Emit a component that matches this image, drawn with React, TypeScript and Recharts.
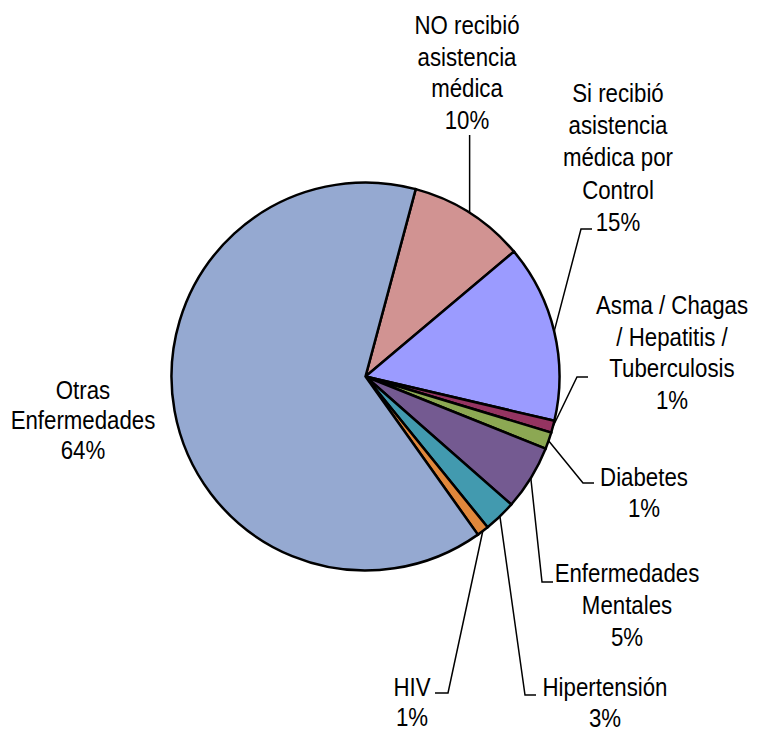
import React from 'react';
import { PieChart, Pie, Cell } from 'recharts';

const categories = [
  'NO recibió asistencia médica',
  'Si recibió asistencia médica por Control',
  'Asma / Chagas / Hepatitis / Tuberculosis',
  'Diabetes',
  'Enfermedades Mentales',
  'Hipertensión',
  'HIV',
  'Otras Enfermedades',
];
const values = [9.7, 14.8, 1.0, 1.4, 5.4, 2.7, 1.0, 64.0];
const percentLabels = ['10%', '15%', '1%', '1%', '5%', '3%', '1%', '64%'];
const labelTextLines = [
  ['NO recibió', 'asistencia', 'médica'],
  ['Si recibió', 'asistencia', 'médica por', 'Control'],
  ['Asma / Chagas', '/ Hepatitis /', 'Tuberculosis'],
  ['Diabetes'],
  ['Enfermedades', 'Mentales'],
  ['Hipertensión'],
  ['HIV'],
  ['Otras', 'Enfermedades'],
];
const colors = ['#D19392', '#9B9BFF', '#953461', '#8CA853', '#745A91', '#429AAF', '#E0873B', '#95A9D1'];

// label layout relative to pie centre (tx, ty: first line centre; lh: line height; leader elbow ex, ey; horizontal end hx)
const layout = [
  { tx: 101.5, ty: -351.5, lh: 31.7, ex: null, ey: -241.5, hx: null },
  { tx: 252.5, ty: -283.5, lh: 32.2, ex: 215.5, ey: -147.5, hx: 226.5 },
  { tx: 306.5, ty: -71.5, lh: 31.7, ex: 211.5, ey: 0.5, hx: 222.5 },
  { tx: 278.5, ty: 100.5, lh: 31, ex: 217.5, ey: 106.5, hx: 228.5 },
  { tx: 261.5, ty: 196.5, lh: 32, ex: 176.5, ey: 205.5, hx: 187.5 },
  { tx: 239.5, ty: 310.5, lh: 31, ex: 159.5, ey: 318.5, hx: 170.5 },
  { tx: 46.5, ty: 310.5, lh: 30, ex: 82.5, ey: 316.5, hx: 69.5 },
  { tx: -282.5, ty: 13.5, lh: 30, ex: undefined, ey: undefined, hx: undefined },
];

const data = categories.map((name, i) => ({ name, value: values[i] }));

const RAD = Math.PI / 180;
const FONT_SIZE = 25;
const X_SCALE = 0.89;

const renderLabel = (props: any) => {
  const { cx, cy, midAngle, outerRadius, index } = props;
  const L = layout[index];
  const lines = [...labelTextLines[index], percentLabels[index]];
  const px = cx + outerRadius * Math.cos(-midAngle * RAD);
  const py = cy + outerRadius * Math.sin(-midAngle * RAD);
  let leader: React.ReactNode = null;
  if (L.ey !== undefined) {
    const ex = L.ex === null ? px : cx + (L.ex as number);
    const ey = cy + (L.ey as number);
    const hx = L.hx === null ? ex : cx + (L.hx as number);
    leader = (
      <polyline
        points={`${px},${py} ${ex},${ey} ${hx},${ey}`}
        fill="none"
        stroke="#000"
        strokeWidth={1.5}
      />
    );
  }
  const tx = cx + L.tx;
  return (
    <g key={`lbl-${index}`}>
      {leader}
      <g transform={`translate(${tx},0) scale(${X_SCALE},1) translate(${-tx},0)`}>
        <text
          x={tx}
          y={cy + L.ty}
          textAnchor="middle"
          fontFamily="'Liberation Sans', Arial, sans-serif"
          fontSize={FONT_SIZE}
          fill="#000"
        >
          {lines.map((t, i) => (
            <tspan key={i} x={tx} y={cy + L.ty + i * L.lh} dy="0.36em">
              {t}
            </tspan>
          ))}
        </text>
      </g>
    </g>
  );
};

export default function App() {
  return (
    <div style={{ position: 'absolute', left: 0, top: 0, width: 763, height: 731, background: '#fff' }}>
      <PieChart width={763} height={731} margin={{ top: 0, right: 0, bottom: 0, left: 0 }}>
        <Pie
          data={data}
          dataKey="value"
          nameKey="name"
          cx={365.5}
          cy={376.5}
          outerRadius={194}
          startAngle={75}
          endAngle={-285}
          stroke="#000"
          strokeWidth={2.5}
          label={renderLabel}
          labelLine={false}
          isAnimationActive={false}
        >
          {data.map((d, i) => (
            <Cell key={d.name} fill={colors[i]} stroke="#000" strokeWidth={2.5} />
          ))}
        </Pie>
      </PieChart>
    </div>
  );
}
